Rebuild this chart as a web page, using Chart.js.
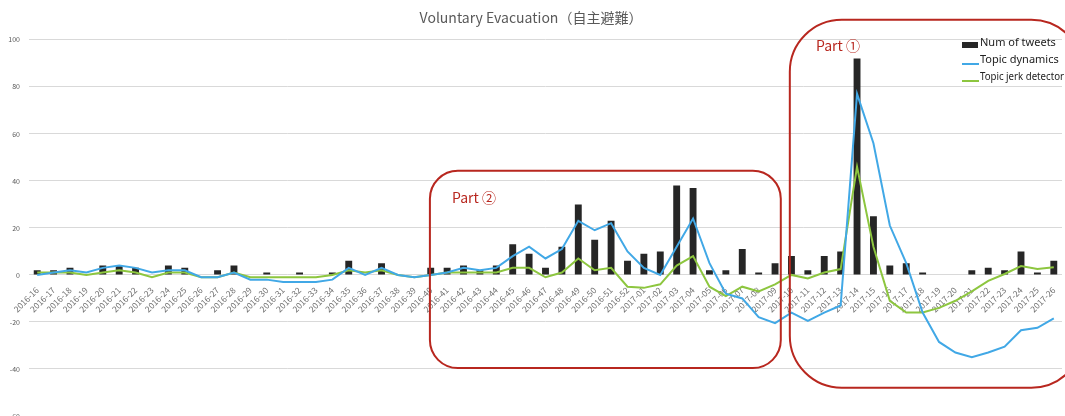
<!DOCTYPE html>
<html>
<head>
<meta charset="utf-8">
<title>Voluntary Evacuation</title>
<script src="https://cdn.jsdelivr.net/npm/chart.js@4.4.1/dist/chart.umd.min.js"></script>
<style>
  html, body { margin: 0; padding: 0; background: #fff; }
  #wrap { width: 1065px; height: 416px; position: relative; }
</style>
</head>
<body>
<div id="wrap"><canvas id="chart"></canvas></div>
<script>
// semanas 2016-16 .. 2016-52, 2017-01 .. 2017-26
const weeks = [
  '2016-16','2016-17','2016-18','2016-19','2016-20','2016-21','2016-22','2016-23','2016-24','2016-25',
  '2016-26','2016-27','2016-28','2016-29','2016-30','2016-31','2016-32','2016-33','2016-34','2016-35',
  '2016-36','2016-37','2016-38','2016-39','2016-40','2016-41','2016-42','2016-43','2016-44','2016-45',
  '2016-46','2016-47','2016-48','2016-49','2016-50','2016-51','2016-52',
  '2017-01','2017-02','2017-03','2017-04','2017-05','2017-06','2017-07','2017-08','2017-09','2017-10',
  '2017-11','2017-12','2017-13','2017-14','2017-15','2017-16','2017-17','2017-18','2017-19','2017-20',
  '2017-21','2017-22','2017-23','2017-24','2017-25','2017-26'
];

const numTweets = [
  2, 2, 3, 0, 4, 4, 3, 0, 4, 3,
  0, 2, 4, 0, 1, 0, 1, 0, 1, 6,
  0, 5, 0, 0, 3, 3, 4, 2, 4, 13,
  9, 3, 12, 30, 15, 23, 6,
  9, 10, 38, 37, 2, 2, 11, 1, 5, 8,
  2, 8, 10, 92, 25, 4, 5, 1, 0, 0,
  2, 3, 2, 10, 1, 6
];

const topicDynamics = [
  0, 1, 2, 1, 3, 4, 3, 1, 2, 2,
  -1, -1, 1, -2, -2, -3, -3, -3, -2, 3,
  0, 3, 0, -1, 0, 1, 3, 2, 3, 8,
  12, 7, 11, 23, 19, 22, 10,
  3, 0, 12, 24, 5, -8, -10, -18, -20.5, -16,
  -19.5, -16, -13, 77, 56, 21, 5, -16, -28.5, -33,
  -35, -33, -30.5, -23.5, -22.5, -18.5
];

const topicJerk = [
  1, 1, 1, 0, 1, 2, 1, -1, 1, 1,
  -1, -1, 1, -1, -1, -1, -1, -1, 0, 2,
  1, 2, 0, -1, 0, 1, 1, 1, 1, 3,
  3, -1, 1, 7, 2, 3, -5,
  -5.5, -4, 4, 8, -5, -9, -5, -7, -4, 0,
  -1.5, 1, 2.5, 46, 12, -11, -16, -16, -14, -11,
  -7, -2.5, 0.4, 3.8, 2.5, 3.3
];

// anotaciones rojas (en coordenadas de datos: índice de categoría / valor)
const partBoxes = [
  { label: 'Part ②', x0: 23.95, x1: 45.35, y0: 44.3, y1: -39.6, r: 28, tx: 25.3, ty: 32.8 },
  { label: 'Part ①', x0: 45.9, x1: 63.8, y0: 108.5, y1: -48, r: 52, tx: 47.5, ty: 97.5 }
];

const RED = '#b8271f';
const BLUE = '#41a8e6';
const GREEN = '#8dc63f';
const DARK = '#262626';
const FONT = '"Noto Sans CJK JP", "Noto Sans", sans-serif';

function roundBox(ctx, x0, y0, x1, y1, r) {
  ctx.beginPath();
  ctx.moveTo(x0 + r, y0);
  ctx.lineTo(x1 - r, y0);
  ctx.arcTo(x1, y0, x1, y0 + r, r);
  ctx.lineTo(x1, y1 - r);
  ctx.arcTo(x1, y1, x1 - r, y1, r);
  ctx.lineTo(x0 + r, y1);
  ctx.arcTo(x0, y1, x0, y1 - r, r);
  ctx.lineTo(x0, y0 + r);
  ctx.arcTo(x0, y0, x0 + r, y0, r);
  ctx.closePath();
}

const extras = {
  id: 'extras',
  afterDraw(chart) {
    const { ctx, scales } = chart;
    const x = scales.x, y = scales.y;

    // cajas "Part"
    ctx.save();
    partBoxes.forEach(b => {
      ctx.strokeStyle = RED;
      ctx.lineWidth = 2;
      roundBox(ctx, x.getPixelForValue(b.x0), y.getPixelForValue(b.y0),
               x.getPixelForValue(b.x1), y.getPixelForValue(b.y1), b.r);
      ctx.stroke();
      ctx.fillStyle = RED;
      ctx.font = '14px ' + FONT;
      ctx.textBaseline = 'middle';
      ctx.textAlign = 'left';
      ctx.fillText(b.label, x.getPixelForValue(b.tx), y.getPixelForValue(b.ty));
    });
    ctx.restore();

    // leyenda
    ctx.save();
    const lx = 962, ly = 44, step = 17;
    chart.data.datasets.forEach((ds, i) => {
      const yy = ly + i * step;
      if (ds.type === 'bar') {
        ctx.fillStyle = ds.backgroundColor;
        ctx.fillRect(lx, yy - 2, 16, 6);
      } else {
        ctx.strokeStyle = ds.borderColor;
        ctx.lineWidth = 2;
        ctx.beginPath();
        ctx.moveTo(lx, yy + 3);
        ctx.lineTo(lx + 17, yy + 3);
        ctx.stroke();
      }
      ctx.fillStyle = '#222';
      ctx.font = '11px "Noto Sans", sans-serif';
      ctx.textBaseline = 'middle';
      ctx.textAlign = 'left';
      ctx.fillText(ds.label, lx + 18, yy - 1, 84);
    });
    ctx.restore();
  }
};

document.addEventListener('DOMContentLoaded', () => {
  const ctx = document.getElementById('chart').getContext('2d');
  new Chart(ctx, {
    data: {
      labels: weeks,
      datasets: [
        {
          type: 'bar',
          label: 'Num of tweets',
          data: numTweets,
          backgroundColor: DARK,
          categoryPercentage: 1,
          barPercentage: 0.42,
          order: 2
        },
        {
          type: 'line',
          label: 'Topic dynamics',
          data: topicDynamics,
          borderColor: BLUE,
          borderWidth: 2,
          pointRadius: 0,
          tension: 0,
          order: 0
        },
        {
          type: 'line',
          label: 'Topic jerk detector',
          data: topicJerk,
          borderColor: GREEN,
          borderWidth: 2,
          pointRadius: 0,
          tension: 0,
          order: 1
        }
      ]
    },
    options: {
      responsive: true,
      maintainAspectRatio: false,
      animation: false,
      layout: { padding: { left: 0, right: 3, top: 0, bottom: 0 } },
      scales: {
        x: {
          position: { y: 0 },
          offset: true,
          afterFit(scale) { scale.height = 0; },
          grid: { display: false },
          border: { display: false },
          ticks: {
            autoSkip: false,
            minRotation: 45,
            maxRotation: 45,
            padding: 2,
            color: '#6f6f6f',
            font: { size: 8.5, family: FONT }
          }
        },
        y: {
          min: -60,
          max: 100,
          afterFit(scale) {
            scale.width = 29;
            // sin margen extra arriba/abajo: -60 queda en el borde inferior
            scale.paddingTop = 0;
            scale.paddingBottom = 0;
          },
          border: { display: false },
          grid: { color: '#d9d9d9', lineWidth: 1, drawTicks: false },
          ticks: {
            stepSize: 20,
            padding: 9,
            color: '#595959',
            font: { size: 7, family: FONT }
          }
        }
      },
      plugins: {
        legend: { display: false },
        tooltip: { enabled: false },
        title: {
          display: true,
          text: 'Voluntary Evacuation（自主避難）',
          color: '#595959',
          padding: { top: 9, bottom: 14 },
          font: { size: 14, weight: 'normal', family: FONT, lineHeight: 1.2 }
        }
      }
    },
    plugins: [extras]
  });
});
</script>
</body>
</html>
